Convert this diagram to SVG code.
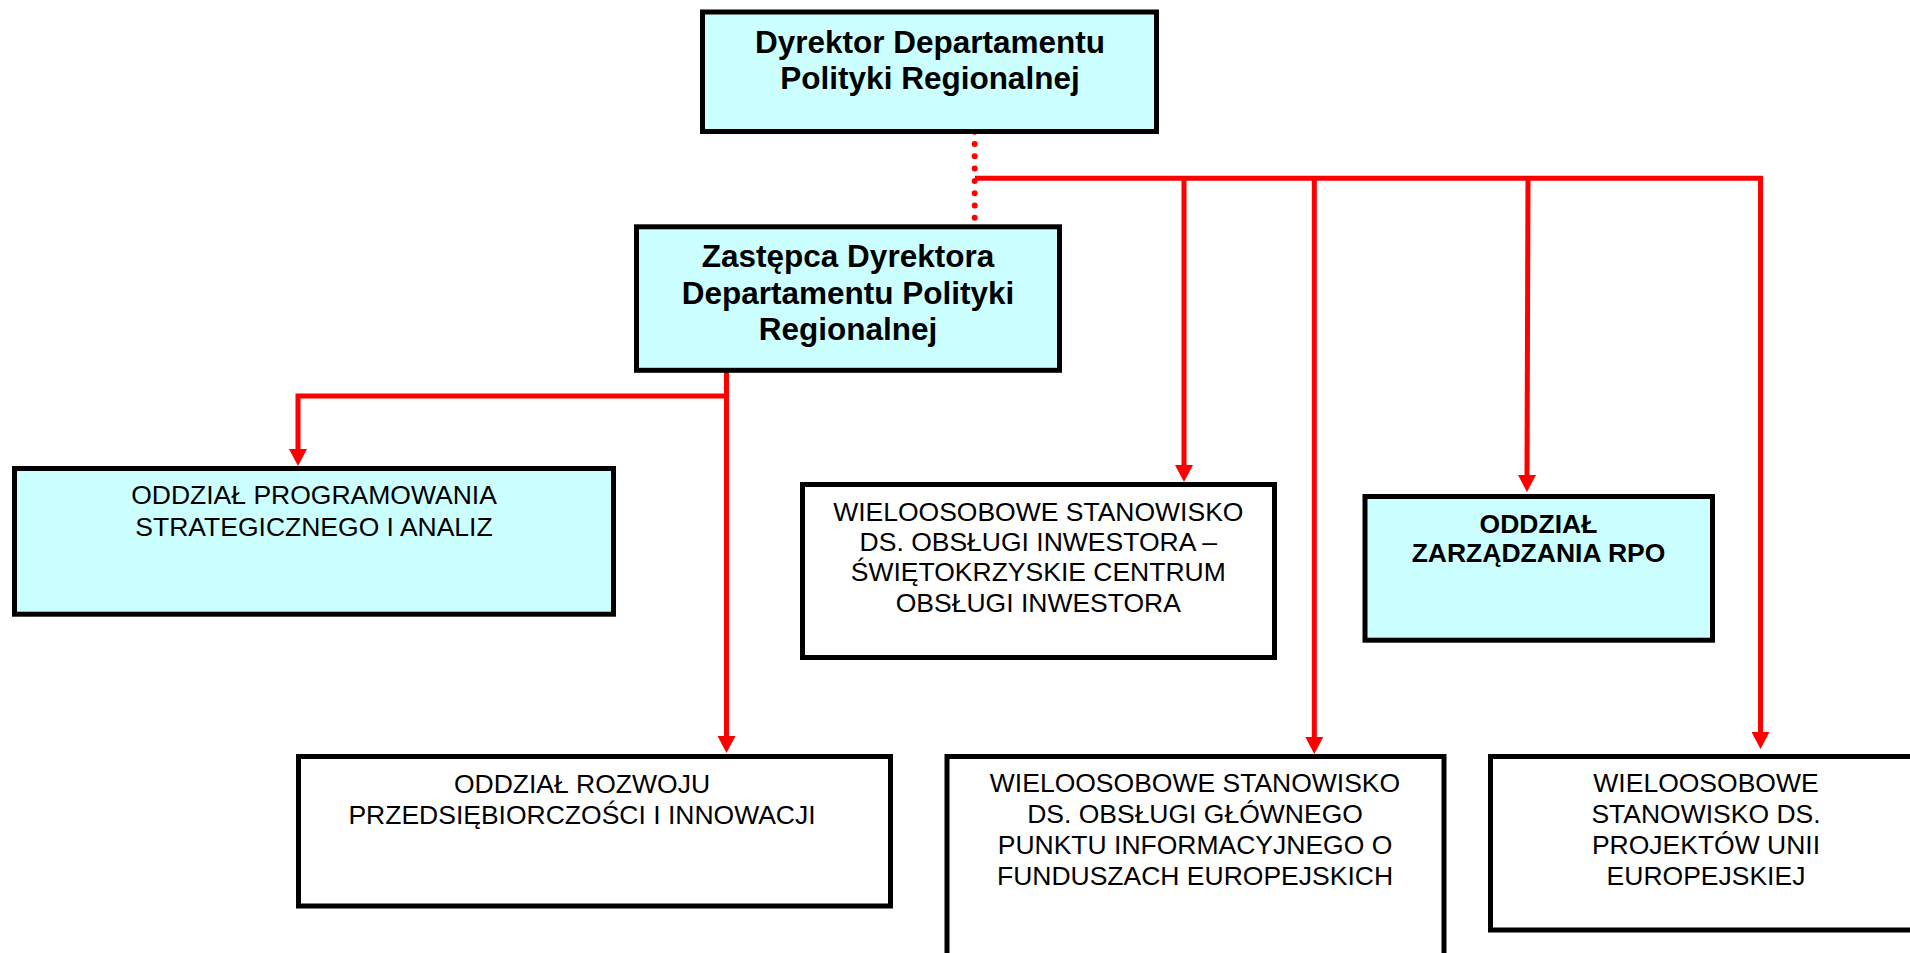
<svg xmlns="http://www.w3.org/2000/svg" width="1910" height="953" viewBox="0 0 1910 953">
  <style>
    .box { stroke: #000; stroke-width: 5; }
    .cyan { fill: #CCFFFF; }
    .white { fill: #FFFFFF; }
    .title { font-family: "Liberation Sans", Arial, sans-serif; font-weight: bold; font-size: 31.5px; text-anchor: middle; fill: #000; }
    .bold { font-family: "Liberation Sans", Arial, sans-serif; font-weight: bold; font-size: 26.5px; text-anchor: middle; fill: #000; }
    .label { font-family: "Liberation Sans", Arial, sans-serif; font-size: 26.5px; text-anchor: middle; fill: #000; }
    .link { fill: none; stroke: #FF0000; stroke-width: 5; stroke-linejoin: miter; }
    .dotted { fill: none; stroke: #FF0000; stroke-width: 6; stroke-linecap: round; stroke-dasharray: 0 12.3; }
  </style>
  <defs>
    <marker id="arrow" markerUnits="userSpaceOnUse" viewBox="0 0 17 18" refX="0" refY="9" markerWidth="17" markerHeight="18" orient="auto">
      <path d="M0,0 L17,9 L0,18 Z" fill="#FF0000"/>
    </marker>
  </defs>
  <rect width="1910" height="953" fill="#FFFFFF"/>

  <!-- connectors -->
  <g id="connectors">
    <path class="dotted" d="M974.7,131.7 V218"/>
    <path class="link" d="M975,178.3 H1760.5 V732" marker-end="url(#arrow)"/>
    <path class="link" d="M1184,178.3 V465" marker-end="url(#arrow)"/>
    <path class="link" d="M1314.3,178.3 V737" marker-end="url(#arrow)"/>
    <path class="link" d="M1528,178.3 L1527,475" marker-end="url(#arrow)"/>
    <path class="link" d="M726.5,372 V736" marker-end="url(#arrow)"/>
    <path class="link" d="M726.5,396 H298 V449" marker-end="url(#arrow)"/>
  </g>

  <!-- director -->
  <g id="dyrektor">
    <rect class="box cyan" x="702.5" y="12" width="454" height="119.5"/>
    <text class="title" x="930" y="53">Dyrektor Departamentu</text>
    <text class="title" x="930" y="89">Polityki Regionalnej</text>
  </g>

  <!-- deputy director -->
  <g id="zastepca">
    <rect class="box cyan" x="636.5" y="226.8" width="423" height="143.5"/>
    <text class="title" x="848" y="266.7">Zastępca Dyrektora</text>
    <text class="title" x="848" y="304.3">Departamentu Polityki</text>
    <text class="title" x="848" y="340">Regionalnej</text>
  </g>

  <g id="programowanie">
    <rect class="box cyan" x="14.5" y="468.5" width="599" height="145.7"/>
    <text class="label" x="314" y="504.3">ODDZIAŁ PROGRAMOWANIA</text>
    <text class="label" x="314" y="535.7">STRATEGICZNEGO I ANALIZ</text>
  </g>

  <g id="inwestor">
    <rect class="box white" x="802.5" y="484.5" width="472" height="173"/>
    <text class="label" x="1038.3" y="521">WIELOOSOBOWE STANOWISKO</text>
    <text class="label" x="1038.3" y="550.7">DS. OBSŁUGI INWESTORA –</text>
    <text class="label" x="1038.3" y="581">ŚWIĘTOKRZYSKIE CENTRUM</text>
    <text class="label" x="1038.3" y="611.7">OBSŁUGI INWESTORA</text>
  </g>

  <g id="rpo">
    <rect class="box cyan" x="1365" y="496.5" width="347.5" height="143.7"/>
    <text class="bold" x="1538.5" y="532.7">ODDZIAŁ</text>
    <text class="bold" x="1538.5" y="562">ZARZĄDZANIA RPO</text>
  </g>

  <g id="rozwoj">
    <rect class="box white" x="298.5" y="756.5" width="592" height="149.5"/>
    <text class="label" x="582" y="792.7">ODDZIAŁ ROZWOJU</text>
    <text class="label" x="582" y="824">PRZEDSIĘBIORCZOŚCI I INNOWACJI</text>
  </g>

  <g id="punkt-informacyjny">
    <rect class="box white" x="947" y="756.5" width="497" height="230"/>
    <text class="label" x="1195" y="792.3">WIELOOSOBOWE STANOWISKO</text>
    <text class="label" x="1195" y="822.7">DS. OBSŁUGI GŁÓWNEGO</text>
    <text class="label" x="1195" y="854">PUNKTU INFORMACYJNEGO O</text>
    <text class="label" x="1195" y="885">FUNDUSZACH EUROPEJSKICH</text>
  </g>

  <g id="projekty-ue">
    <rect class="box white" x="1490.5" y="756.5" width="440" height="173.5"/>
    <text class="label" x="1706" y="792.3">WIELOOSOBOWE</text>
    <text class="label" x="1706" y="823.3">STANOWISKO DS.</text>
    <text class="label" x="1706" y="854.3">PROJEKTÓW UNII</text>
    <text class="label" x="1706" y="885">EUROPEJSKIEJ</text>
  </g>
</svg>
